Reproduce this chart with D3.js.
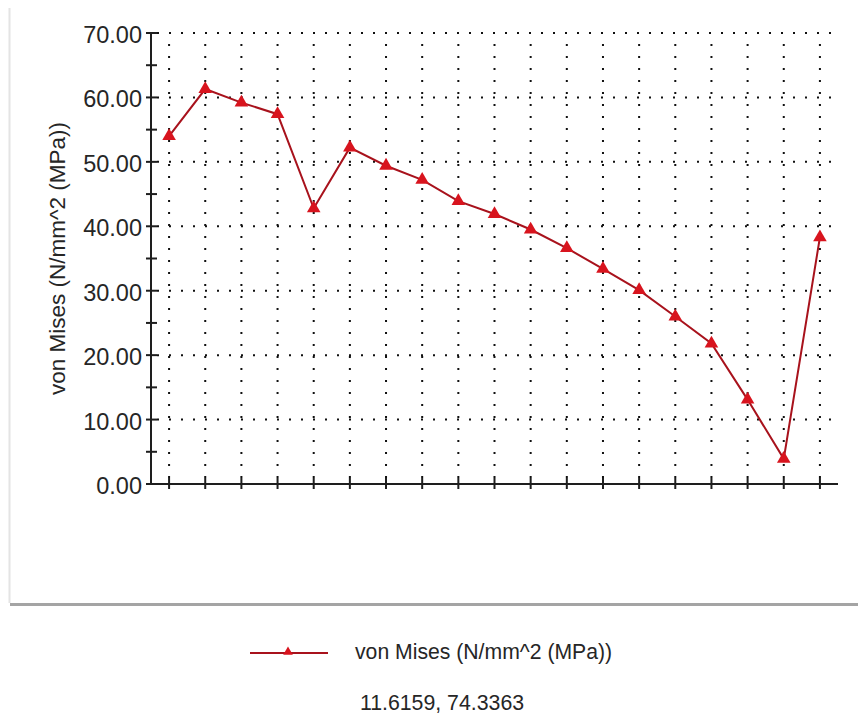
<!DOCTYPE html>
<html>
<head>
<meta charset="utf-8">
<script src="https://cdn.jsdelivr.net/npm/d3@7"></script>
<style>
  html, body { margin: 0; padding: 0; background: #ffffff; }
  svg { display: block; font-family: "Liberation Sans", Arial, sans-serif; }
</style>
</head>
<body>
<svg id="chart" width="858" height="722"></svg>
<script>
// Node numbers along the path (x axis carries no labels)
const nodes = [1, 2, 3, 4, 5, 6, 7, 8, 9, 10, 11, 12, 13, 14, 15, 16, 17, 18, 19];
// von Mises stress at each node, N/mm^2 (MPa)
const vonMises = [54.0, 61.3, 59.2, 57.4, 42.8, 52.2, 49.4, 47.2, 43.9, 41.9,
                  39.5, 36.6, 33.4, 30.1, 26.0, 21.8, 13.1, 3.9, 38.3];
// Value axis ticks
const majorTicks = [0, 10, 20, 30, 40, 50, 60, 70];
const minorTicks = [5, 15, 25, 35, 45, 55, 65];
const tickLabels = ["0.00", "10.00", "20.00", "30.00", "40.00", "50.00", "60.00", "70.00"];
const seriesName = "von Mises (N/mm^2 (MPa))";
const axisTitle = "von Mises (N/mm^2 (MPa))";
const cursorReadout = "11.6159, 74.3363";

const svg = d3.select("#chart");
const plot = { left: 151, right: 838, top: 33, bottom: 484 };

const x = d3.scaleBand().domain(nodes).range([plot.left, plot.right]);
const cx = d => x(d) + x.bandwidth() / 2;
const y = d3.scaleLinear().domain([0, 70]).range([plot.bottom, plot.top]);

const lineColor = "#a8121c";
const markColor = "#d8141e";
const axisColor = "#1e1e1e";
const textColor = "#262626";

// Panel frame
svg.append("line").attr("x1", 9.5).attr("x2", 9.5).attr("y1", 8).attr("y2", 603)
  .attr("stroke", "#e4e4e4").attr("stroke-width", 2);
svg.append("line").attr("x1", 10).attr("x2", 858).attr("y1", 604.5).attr("y2", 604.5)
  .attr("stroke", "#a4a4a4").attr("stroke-width", 3);

// Dotted grid
const grid = svg.append("g").attr("stroke", "#111111").attr("stroke-width", 2)
  .attr("stroke-dasharray", "2,10");
grid.selectAll("line.h").data(majorTicks.filter(t => t > 0)).join("line")
  .attr("class", "h")
  .attr("x1", plot.left + 6).attr("x2", plot.right - 2)
  .attr("y1", d => y(d)).attr("y2", d => y(d));
grid.selectAll("line.v").data(nodes).join("line")
  .attr("class", "v")
  .attr("x1", d => cx(d)).attr("x2", d => cx(d))
  .attr("y1", plot.bottom - 6).attr("y2", plot.top + 4);

// Y axis
const yAxis = svg.append("g");
yAxis.append("line").attr("x1", plot.left).attr("x2", plot.left)
  .attr("y1", plot.top).attr("y2", plot.bottom)
  .attr("stroke", axisColor).attr("stroke-width", 2);
yAxis.selectAll("line.tk").data(majorTicks.concat(minorTicks)).join("line")
  .attr("class", "tk")
  .attr("x1", plot.left - 5).attr("x2", plot.left + 6)
  .attr("y1", d => y(d)).attr("y2", d => y(d))
  .attr("stroke", axisColor).attr("stroke-width", 2);
yAxis.selectAll("text").data(majorTicks).join("text")
  .attr("x", plot.left - 9)
  .attr("y", d => y(d) + 1.5)
  .attr("dy", "0.36em")
  .attr("text-anchor", "end")
  .attr("font-size", 23.5)
  .attr("fill", textColor)
  .text((d, i) => tickLabels[i]);

// X axis
const xAxis = svg.append("g");
xAxis.append("line").attr("x1", plot.left).attr("x2", plot.right)
  .attr("y1", plot.bottom).attr("y2", plot.bottom)
  .attr("stroke", axisColor).attr("stroke-width", 2);
xAxis.selectAll("line.tk").data(nodes).join("line")
  .attr("class", "tk")
  .attr("x1", d => cx(d)).attr("x2", d => cx(d))
  .attr("y1", plot.bottom - 6).attr("y2", plot.bottom + 5)
  .attr("stroke", axisColor).attr("stroke-width", 2);

// Axis title
svg.append("text")
  .attr("transform", `translate(65, ${(plot.top + plot.bottom) / 2}) rotate(-90)`)
  .attr("text-anchor", "middle")
  .attr("font-size", 22.5)
  .attr("fill", textColor)
  .text(axisTitle);

// Series line and triangle markers
const pts = nodes.map((n, i) => [cx(n), y(vonMises[i])]);
svg.append("path")
  .attr("d", d3.line()(pts))
  .attr("fill", "none").attr("stroke", lineColor).attr("stroke-width", 2);
const tri = d3.symbol().type(d3.symbolTriangle).size(80);
svg.append("g").selectAll("path").data(pts).join("path")
  .attr("transform", d => `translate(${d[0]},${d[1]})`)
  .attr("d", tri)
  .attr("fill", markColor);

// Legend
const lg = svg.append("g");
lg.append("line").attr("x1", 250).attr("x2", 328).attr("y1", 653).attr("y2", 653)
  .attr("stroke", lineColor).attr("stroke-width", 2);
lg.append("path").attr("transform", "translate(288,652)")
  .attr("d", d3.symbol().type(d3.symbolTriangle).size(40)).attr("fill", markColor);
lg.append("text").attr("x", 355).attr("y", 659)
  .attr("font-size", 21.2).attr("fill", textColor).text(seriesName);

// Cursor position readout
svg.append("text").attr("x", 442).attr("y", 710).attr("text-anchor", "middle")
  .attr("font-size", 21.3).attr("fill", textColor).text(cursorReadout);
</script>
</body>
</html>
